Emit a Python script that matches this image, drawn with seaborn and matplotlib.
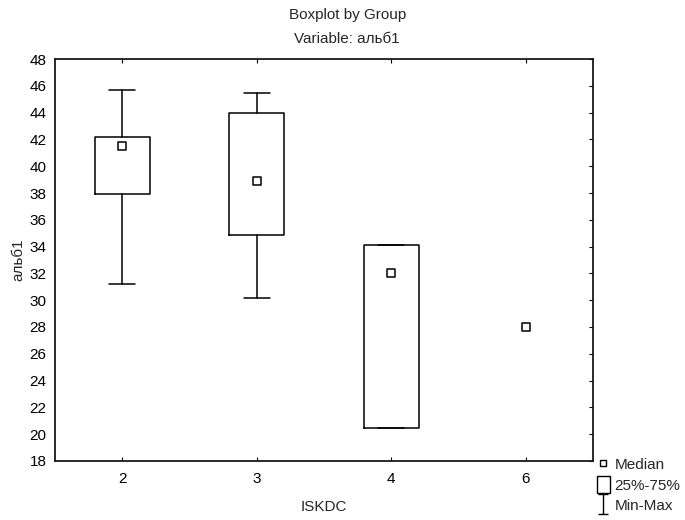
import matplotlib
matplotlib.use("Agg")
import matplotlib.pyplot as plt
import seaborn as sns
import pandas as pd
from matplotlib.lines import Line2D
from matplotlib.patches import Patch
from matplotlib.path import Path

# Five-number summaries of альб1 by ISKDC group
groups = ["2", "3", "4", "6"]
mins = [31.2, 30.2, 20.45, 28.0]
q1s = [37.9, 34.9, 20.45, 28.0]
medians = [41.5, 38.9, 32.0, 28.0]
q3s = [42.2, 44.0, 34.1, 28.0]
maxs = [45.7, 45.5, 34.1, 28.0]

y_ticks = list(range(18, 49, 2))

sns.set_style("white")
plt.rcParams["font.family"] = ["Liberation Sans", "DejaVu Sans"]

FS = 11

fig = plt.figure(figsize=(6.85, 5.2), dpi=100)
ax = fig.add_axes([0.0803, 0.1135, 0.7854, 0.773])

# Boxes and whiskers for groups that have a spread
stats, positions = [], []
for i, g in enumerate(groups):
    if q3s[i] > q1s[i]:
        stats.append(dict(label=g, whislo=mins[i], q1=q1s[i], med=medians[i],
                          q3=q3s[i], whishi=maxs[i], fliers=[]))
        positions.append(i)

line_kw = dict(color="black", linewidth=1.1)
ax.bxp(stats, positions=positions, widths=0.41, capwidths=0.19,
       showfliers=False, patch_artist=False,
       boxprops=line_kw, whiskerprops=line_kw, capprops=line_kw,
       medianprops=dict(visible=False), manage_ticks=False)

# Median markers
df = pd.DataFrame({"ISKDC": groups, "median": medians, "pos": range(len(groups))})
sns.scatterplot(data=df, x="pos", y="median", marker="s", s=28,
                facecolor="white", edgecolor="black", linewidth=1.1,
                ax=ax, zorder=5, legend=False)

ax.set_xlim(-0.5, len(groups) - 0.5)
ax.set_ylim(18, 48)
ax.set_xticks(range(len(groups)))
ax.set_xticklabels(groups)
ax.set_yticks(y_ticks)
ax.set_yticklabels([str(t) for t in y_ticks])
ax.tick_params(axis="x", direction="in", length=3, width=0.8, pad=8,
               labelsize=FS, top=True, bottom=True, colors="black")
ax.tick_params(axis="y", direction="in", length=3, width=0.8, pad=6,
               labelsize=FS, left=False, right=True, colors="black")
for s in ax.spines.values():
    s.set_color("#1a1a1a")
    s.set_linewidth(1.3)

ax.set_xlabel("ISKDC", fontsize=FS, labelpad=10)
ax.set_ylabel("альб1", fontsize=FS, labelpad=3)

fig.text(0.507, 1 - 15 / 520, "Boxplot by Group", ha="center", va="center", fontsize=FS)
fig.text(0.507, 1 - 39 / 520, "Variable: альб1", ha="center", va="center", fontsize=FS)

# Legend symbols
ibeam = Path([(-0.5, 1), (0.5, 1), (0, 1), (0, -1), (-0.5, -1), (0.5, -1)],
             [Path.MOVETO, Path.LINETO, Path.MOVETO, Path.LINETO, Path.MOVETO, Path.LINETO])
handles = [
    Line2D([], [], marker="s", ls="none", ms=5, mfc="white", mec="black", mew=1.0),
    Patch(facecolor="white", edgecolor="black", linewidth=1.0),
    Line2D([], [], marker=ibeam, ls="none", ms=15, mec="black", mew=1.0),
]
fig.legend(handles, ["Median", "25%-75%", "Min-Max"], loc="upper left",
           bbox_to_anchor=(597 / 685, 1 - 456 / 520), frameon=False,
           fontsize=FS, handlelength=0.85, handleheight=1.3, handletextpad=0.3,
           labelspacing=0.25, borderaxespad=0, borderpad=0)

fig.savefig("out.png", dpi=100)
